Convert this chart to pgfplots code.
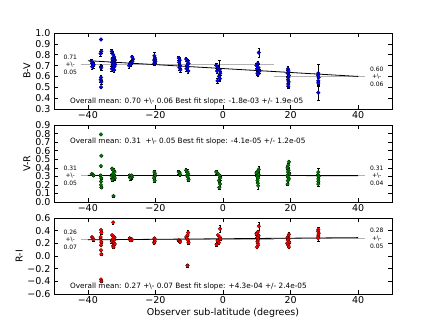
\documentclass[border=0pt]{standalone}
\usepackage{pgfplots}
\usepackage{pgfplotstable}
\pgfplotsset{compat=1.18}
\usepackage{fontspec}
\setmainfont{DejaVu Sans}
\definecolor{mplgreen}{rgb}{0,0.5,0}

\pgfplotstableread{
x y e
-38.9 0.74 0.02
-38.6 0.72 0.02
-38.4 0.70 0.02
-38.7 0.69 0.02
-38.3 0.71 0.02
-36.1 0.94 0.01
-36.0 0.83 0.02
-36.2 0.81 0.02
-36.1 0.69 0.02
-36.0 0.68 0.02
-36.1 0.59 0.02
-36.2 0.57 0.02
-36.0 0.55 0.02
-36.1 0.50 0.01
-32.9 0.83 0.02
-32.5 0.80 0.03
-32.2 0.78 0.02
-32.7 0.76 0.02
-32.0 0.75 0.03
-32.4 0.74 0.02
-32.8 0.73 0.02
-32.3 0.72 0.03
-31.9 0.71 0.02
-32.6 0.70 0.02
-32.1 0.69 0.03
-32.5 0.68 0.02
-32.9 0.67 0.02
-32.2 0.66 0.02
-27.8 0.70 0.02
-27.5 0.72 0.02
-27.1 0.73 0.02
-26.8 0.74 0.02
-26.6 0.76 0.02
-26.9 0.78 0.02
-27.3 0.71 0.02
-20.3 0.79 0.03
-20.1 0.77 0.02
-20.4 0.75 0.02
-20.0 0.74 0.02
-20.2 0.73 0.02
-20.3 0.72 0.02
-13.1 0.77 0.02
-12.8 0.75 0.03
-13.0 0.73 0.02
-12.7 0.70 0.02
-12.9 0.68 0.02
-12.6 0.66 0.02
-10.9 0.76 0.02
-10.5 0.74 0.02
-10.2 0.72 0.03
-10.7 0.70 0.02
-10.4 0.69 0.02
-10.8 0.67 0.02
-10.3 0.65 0.02
-2.0 0.70 0.02
-1.5 0.68 0.02
-1.0 0.66 0.09
-1.8 0.65 0.02
-0.8 0.63 0.02
-1.2 0.60 0.02
-0.9 0.58 0.02
-1.6 0.56 0.02
10.6 0.82 0.04
10.3 0.72 0.02
9.9 0.70 0.02
10.5 0.68 0.03
10.1 0.67 0.02
10.8 0.65 0.02
10.2 0.63 0.02
10.4 0.62 0.02
19.2 0.67 0.02
19.4 0.65 0.02
19.1 0.63 0.03
19.5 0.61 0.02
19.3 0.59 0.02
19.2 0.57 0.02
19.4 0.55 0.02
19.3 0.53 0.03
19.3 0.51 0.02
28.2 0.63 0.08
28.1 0.61 0.03
28.3 0.59 0.03
28.2 0.56 0.03
28.2 0.54 0.03
28.2 0.45 0.07
}\bv

\pgfplotstableread{
x y e
-38.8 0.33 0.01
-38.5 0.32 0.01
-38.3 0.31 0.01
-36.1 0.79 0.01
-36.0 0.54 0.01
-36.1 0.42 0.01
-36.2 0.31 0.01
-36.0 0.28 0.01
-36.1 0.24 0.01
-36.1 0.20 0.01
-36.0 0.17 0.01
-32.8 0.39 0.02
-32.4 0.37 0.02
-32.1 0.35 0.02
-32.6 0.33 0.02
-32.2 0.31 0.02
-32.9 0.30 0.02
-32.3 0.29 0.02
-32.0 0.28 0.02
-32.5 0.27 0.02
-32.7 0.26 0.02
-32.4 0.07 0.01
-27.6 0.31 0.02
-27.2 0.30 0.02
-26.9 0.29 0.02
-27.4 0.28 0.02
-27.0 0.31 0.02
-20.3 0.35 0.02
-20.1 0.33 0.02
-20.2 0.30 0.02
-20.4 0.28 0.02
-20.2 0.25 0.02
-13.1 0.35 0.02
-12.8 0.34 0.02
-12.7 0.32 0.02
-10.9 0.37 0.02
-10.5 0.35 0.03
-10.3 0.33 0.02
-10.7 0.31 0.02
-10.4 0.29 0.02
-10.2 0.26 0.02
-2.0 0.35 0.02
-1.5 0.33 0.02
-1.0 0.31 0.02
-0.8 0.28 0.02
-1.2 0.25 0.02
-0.9 0.21 0.03
-1.1 0.17 0.02
10.6 0.38 0.04
10.3 0.36 0.02
9.9 0.34 0.02
10.5 0.32 0.02
10.1 0.30 0.02
10.4 0.28 0.02
10.2 0.25 0.02
10.3 0.22 0.02
10.4 0.19 0.04
19.5 0.47 0.02
19.3 0.43 0.02
19.1 0.40 0.02
19.4 0.37 0.02
19.2 0.35 0.02
19.6 0.33 0.02
19.0 0.31 0.02
19.3 0.29 0.02
19.5 0.27 0.02
19.2 0.25 0.02
19.1 0.21 0.01
28.2 0.35 0.04
28.1 0.32 0.02
28.3 0.30 0.02
28.2 0.27 0.02
28.2 0.24 0.02
28.2 0.21 0.02
}\vr

\pgfplotstableread{
x y e
-38.8 0.30 0.02
-38.5 0.28 0.02
-38.3 0.26 0.02
-36.1 0.41 0.02
-36.0 0.37 0.02
-36.2 0.30 0.02
-36.1 0.26 0.02
-36.0 0.22 0.02
-36.1 0.17 0.02
-36.1 0.09 0.02
-36.0 0.03 0.02
-36.1 -0.37 0.02
-36.0 -0.40 0.02
-32.5 0.53 0.02
-32.8 0.33 0.02
-32.4 0.31 0.02
-32.1 0.29 0.02
-32.6 0.27 0.02
-32.2 0.25 0.02
-32.9 0.23 0.02
-32.3 0.21 0.02
-32.0 0.19 0.02
-32.5 0.16 0.02
-32.4 0.14 0.02
-27.6 0.28 0.02
-27.2 0.27 0.02
-26.9 0.26 0.02
-27.4 0.25 0.02
-20.3 0.28 0.02
-20.1 0.26 0.02
-20.2 0.23 0.02
-20.4 0.21 0.02
-13.1 0.25 0.02
-12.8 0.24 0.02
-12.7 0.22 0.02
-10.9 0.30 0.02
-10.5 0.33 0.02
-10.3 0.37 0.03
-10.7 0.28 0.02
-10.4 0.25 0.02
-10.2 0.21 0.02
-10.5 -0.15 0.02
-0.9 0.43 0.05
-1.5 0.33 0.02
-1.0 0.30 0.02
-0.8 0.27 0.02
-1.6 0.24 0.02
-1.2 0.21 0.02
-1.9 0.18 0.02
10.6 0.47 0.06
10.3 0.38 0.02
9.9 0.35 0.02
10.5 0.32 0.02
10.1 0.29 0.02
10.4 0.26 0.02
10.2 0.23 0.02
10.3 0.20 0.02
10.4 0.17 0.02
10.0 0.14 0.02
19.5 0.34 0.03
19.3 0.31 0.02
19.1 0.29 0.02
19.4 0.27 0.02
19.2 0.25 0.02
19.6 0.22 0.02
19.0 0.20 0.02
19.3 0.17 0.02
19.5 0.14 0.02
28.2 0.42 0.03
28.1 0.39 0.02
28.3 0.36 0.02
28.2 0.33 0.02
28.2 0.30 0.02
28.2 0.28 0.04
}\ri

\pgfplotsset{
  panel/.style={
    scale only axis, width=338pt, height=76pt, anchor=south west,
    xmin=-50, xmax=50,
    xtick={-40,-20,0,20,40}, xticklabels={−40,−20,0,20,40},
    tick align=inside, tick pos=both, major tick length=4pt,
    tick style={black, line width=0.5pt},
    axis line style={line width=0.7pt},
    ticklabel style={font=\fontsize{9.5}{10}\selectfont},
    label style={font=\fontsize{9.5}{10}\selectfont},
    xticklabel style={yshift=1pt},
    ylabel shift=-2pt,
    clip=false,
  },
  errs/.style={forget plot, draw=none, mark=none,
    error bars/.cd, y dir=both, y explicit,
    error bar style={draw=black, line width=0.35pt},
    error mark options={rotate=90, mark size=1.3pt, draw=black, line width=0.35pt}},
  pts/.style={only marks, mark=*, mark size=1.9pt,
    mark options={fill=#1, draw=black!70!#1, line width=0.25pt}},
  fitline/.style={black, line width=0.8pt},
  meanline/.style={gray!60, line width=0.9pt},
}
\tikzset{
  ann/.style={font=\fontsize{7.3}{8}\selectfont, anchor=west, inner sep=0pt},
  side/.style={font=\fontsize{6}{7.6}\selectfont, align=center, inner sep=0pt},
}

\begin{document}
\begin{tikzpicture}[x=1pt,y=1pt]
\useasboundingbox (0,0) rectangle (436,327);

% Panel 1: B-V
\begin{axis}[panel, at={(54pt,218pt)}, ymin=0.3, ymax=1.0,
  ytick={0.3,0.4,0.5,0.6,0.7,0.8,0.9,1.0},
  yticklabels={0.3,0.4,0.5,0.6,0.7,0.8,0.9,1.0}, ylabel={B-V}]
\addplot[meanline] coordinates {(-42,0.71) (15,0.71)};
\addplot[meanline] coordinates {(15,0.60) (42,0.60)};
\addplot[fitline] coordinates {(-40,0.745) (40,0.60)};
\addplot[errs] table[x=x, y=y, y error=e] {\bv};
\addplot[pts=blue] table[x=x, y=y] {\bv};
\node[side] at (axis cs:-45.2,0.71) {0.71\\+\textbackslash-\\0.05};
\node[side] at (axis cs:45.5,0.60) {0.60\\+\textbackslash-\\0.06};
\node[ann] at (axis cs:-45.3,0.373) {Overall mean: 0.70 +\textbackslash- 0.06 Best fit slope: -1.8e-03 +/- 1.9e-05};
\end{axis}

% Panel 2: V-R
\begin{axis}[panel, at={(54pt,125pt)}, height=77pt, ymin=0.0, ymax=0.9,
  ytick={0,0.1,0.2,0.3,0.4,0.5,0.6,0.7,0.8,0.9},
  yticklabels={0.0,0.1,0.2,0.3,0.4,0.5,0.6,0.7,0.8,0.9}, ylabel={V-R}]
\addplot[meanline] coordinates {(-42,0.31) (42,0.31)};
\addplot[fitline] coordinates {(-40,0.311) (40,0.308)};
\addplot[errs] table[x=x, y=y, y error=e] {\vr};
\addplot[pts=mplgreen] table[x=x, y=y] {\vr};
\node[side] at (axis cs:-45.2,0.31) {0.31\\+\textbackslash-\\0.05};
\node[side] at (axis cs:45.5,0.31) {0.31\\+\textbackslash-\\0.04};
\node[ann] at (axis cs:-45.3,0.705) {Overall mean: 0.31 \ +\textbackslash- 0.05 Best fit slope: -4.1e-05 +/- 1.2e-05};
\end{axis}

% Panel 3: R-I
\begin{axis}[panel, at={(54pt,33pt)}, ymin=-0.6, ymax=0.6,
  ytick={-0.6,-0.4,-0.2,0,0.2,0.4,0.6},
  yticklabels={−0.6,−0.4,−0.2,0.0,0.2,0.4,0.6}, ylabel={R-I},
  xlabel={Observer sub-latitude (degrees)}, xlabel style={yshift=2pt}]
\addplot[meanline] coordinates {(-42,0.26) (15,0.26)};
\addplot[meanline] coordinates {(15,0.28) (42,0.28)};
\addplot[fitline] coordinates {(-40,0.255) (40,0.29)};
\addplot[errs] table[x=x, y=y, y error=e] {\ri};
\addplot[pts=red] table[x=x, y=y] {\ri};
\node[side] at (axis cs:-45.2,0.26) {0.26\\+\textbackslash-\\0.07};
\node[side] at (axis cs:45.5,0.28) {0.28\\+\textbackslash-\\0.05};
\node[ann] at (axis cs:-45.3,-0.485) {Overall mean: 0.27 +\textbackslash- 0.07 Best fit slope: +4.3e-04 +/- 2.4e-05};
\end{axis}
\end{tikzpicture}
\end{document}
